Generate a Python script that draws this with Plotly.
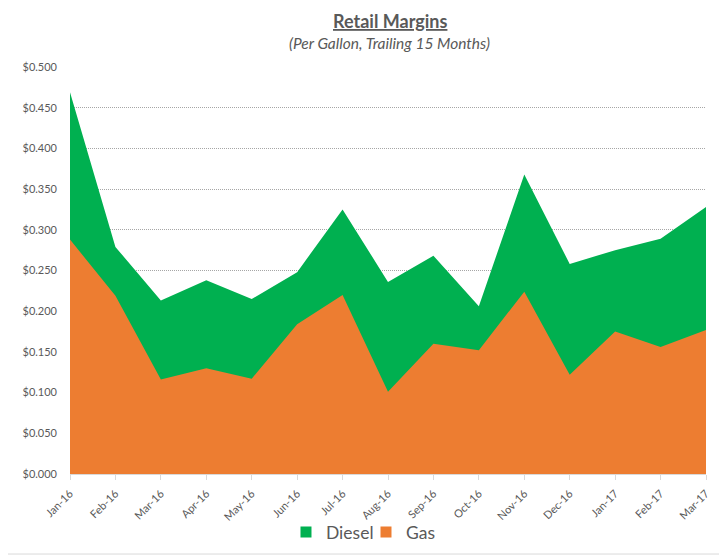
import plotly.graph_objects as go

months = ["Jan-16", "Feb-16", "Mar-16", "Apr-16", "May-16", "Jun-16", "Jul-16", "Aug-16",
          "Sep-16", "Oct-16", "Nov-16", "Dec-16", "Jan-17", "Feb-17", "Mar-17"]
diesel = [0.469, 0.279, 0.213, 0.238, 0.215, 0.248, 0.325, 0.236,
          0.268, 0.206, 0.368, 0.258, 0.275, 0.289, 0.328]
gas = [0.288, 0.219, 0.116, 0.130, 0.117, 0.184, 0.220, 0.101,
       0.160, 0.152, 0.224, 0.122, 0.175, 0.156, 0.177]
ytick_vals = [0.0, 0.05, 0.10, 0.15, 0.20, 0.25, 0.30, 0.35, 0.40, 0.45, 0.50]

xpos = list(range(len(months)))
FONT = "Lato"
GREY = "#595959"
GREEN = "#00B050"
ORANGE = "#ED7D31"

fig = go.Figure()
fig.add_trace(go.Scatter(x=xpos, y=diesel, name="Diesel", mode="none",
                         fill="tozeroy", fillcolor=GREEN, showlegend=False))
fig.add_trace(go.Scatter(x=xpos, y=gas, name="Gas", mode="none",
                         fill="tozeroy", fillcolor=ORANGE, showlegend=False))
# legend entries with small square keys (as in the reference)
fig.add_trace(go.Scatter(x=[None], y=[None], name="Diesel", mode="markers", legend="legend",
                         marker=dict(symbol="square", size=11, color=GREEN)))
fig.add_trace(go.Scatter(x=[None], y=[None], name="Gas", mode="markers", legend="legend2",
                         marker=dict(symbol="square", size=11, color=ORANGE)))

leg_common = dict(orientation="h", xanchor="left", y=-0.143, yanchor="middle",
                  bgcolor="rgba(0,0,0,0)", itemwidth=30,
                  font=dict(size=17.5, color=GREY))

# page body has an 8px margin, so the figure is sized/offset to compensate
fig.update_layout(
    width=719, height=548,
    margin=dict(l=62, r=21, t=59, b=82, autoexpand=False),
    paper_bgcolor="white", plot_bgcolor="white",
    font=dict(family=FONT, color=GREY),
    showlegend=True,
    legend=dict(x=0.3396, **leg_common),
    legend2=dict(x=0.4654, **leg_common),
    xaxis=dict(range=[0, len(months) - 1], tickvals=xpos, ticktext=months, tickangle=-45,
               automargin=False,
               showgrid=False, zeroline=False, showline=True, linecolor="#d9d9d9", linewidth=1,
               ticks="outside", ticklen=5, tickcolor="#d9d9d9", ticklabelstandoff=3,
               tickfont=dict(size=11, color=GREY)),
    yaxis=dict(range=[0, 0.5], tickvals=ytick_vals, tickformat="$.3f", automargin=False,
               showgrid=True, gridcolor="#a6a6a6", griddash="1px,1px", gridwidth=1,
               zeroline=False, showline=False, ticks="", ticklabelstandoff=12,
               tickfont=dict(size=11, color=GREY)),
    annotations=[
        dict(text="<b><u>Retail Margins</u></b>", xref="paper", yref="paper",
             x=0.503, y=1.113, yanchor="middle", showarrow=False,
             font=dict(size=18, color=GREY, family=FONT)),
        dict(text="<i>(Per Gallon, Trailing 15 Months)</i>", xref="paper", yref="paper",
             x=0.503, y=1.059, yanchor="middle", showarrow=False,
             font=dict(size=15.5, color=GREY, family=FONT)),
    ],
    shapes=[
        dict(type="line", xref="paper", yref="paper", x0=1.03, x1=1.03, y0=-0.1966, y1=1.2,
             line=dict(color="#d9d9d9", width=1)),
        dict(type="line", xref="paper", yref="paper", x0=-0.2, x1=1.03, y0=-0.1966, y1=-0.1966,
             line=dict(color="#d9d9d9", width=1)),
    ],
)

fig.write_html("out.html")
